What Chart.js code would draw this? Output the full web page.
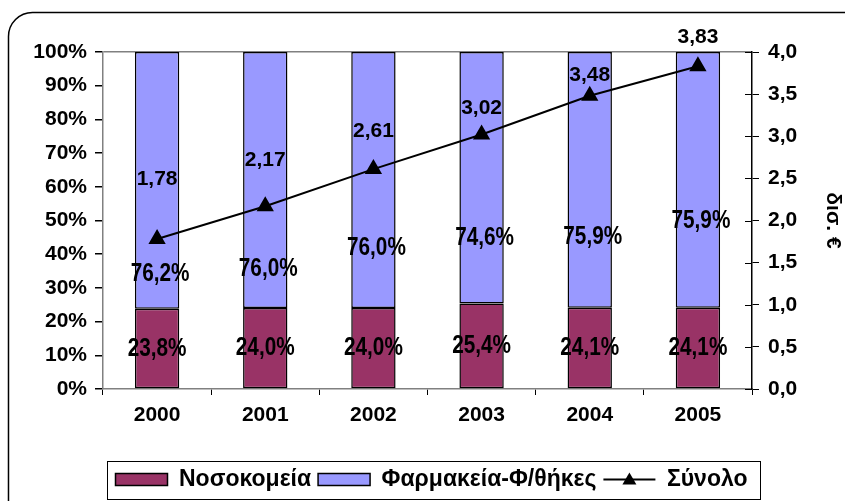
<!DOCTYPE html>
<html>
<head>
<meta charset="utf-8">
<script src="https://cdn.jsdelivr.net/npm/chart.js@4"></script>
<style>
  body { margin: 0; background: #fff; }
  #wrap { width: 845px; height: 501px; }
</style>
</head>
<body>
<div id="wrap"><canvas id="chart" width="845" height="501"></canvas></div>
<script>
var years = ['2000', '2001', '2002', '2003', '2004', '2005']
var hospitals = [23.8, 24.0, 24.0, 25.4, 24.1, 24.1]
var pharmacies = [76.2, 76.0, 76.0, 74.6, 75.9, 75.9]
var total = [1.78, 2.17, 2.61, 3.02, 3.48, 3.83]

// where the labels were moved to in the original (label styling, not data)
var pharmLabelAt = [34.2, 35.7, 41.7, 44.9, 45.2, 49.7]
var totalLabelLift = [60, 46, 38, 26, 21, 29]

var FONT = "'Liberation Sans', Arial, sans-serif"

function comma(v, d) {
  return v.toFixed(d).replace('.', ',')
}

var frame = {
  id: 'frame',
  beforeDraw: function (chart) {
    var ctx = chart.ctx
    ctx.save()
    ctx.strokeStyle = '#000'
    ctx.lineWidth = 1.5
    ctx.beginPath()
    ctx.roundRect(8.5, 12.5, 900, 600, 24)
    ctx.stroke()
    ctx.restore()
  },
  afterDraw: function (chart) {
    var ctx = chart.ctx
    var area = chart.chartArea
    var y1 = chart.scales.y1
    ctx.save()
    // inner half of the right axis ticks
    ctx.strokeStyle = '#000'
    ctx.lineWidth = 1
    y1.ticks.forEach(function (t) {
      var y = Math.round(y1.getPixelForValue(t.value)) + 0.5
      ctx.beginPath()
      ctx.moveTo(area.right - 7, y)
      ctx.lineTo(area.right, y)
      ctx.stroke()
    })

    // legend frame and line symbol
    var boxes = chart.legend.legendHitBoxes
    if (boxes.length) {
      var cy = boxes[0].top + boxes[0].height / 2
      var l = boxes[0].left - 9
      var r = boxes[boxes.length - 1].left + boxes[boxes.length - 1].width + 12
      ctx.strokeStyle = '#000'
      ctx.lineWidth = 1
      ctx.strokeRect(Math.round(l) + 0.5, Math.round(cy - 19) + 0.5, Math.round(r - l), 38)

      var hb = boxes[2]
      ctx.lineWidth = 2
      ctx.beginPath()
      ctx.moveTo(hb.left, cy)
      ctx.lineTo(hb.left + 52, cy)
      ctx.stroke()
      ctx.fillStyle = '#000'
      ctx.beginPath()
      ctx.moveTo(hb.left + 26, cy - 7)
      ctx.lineTo(hb.left + 33, cy + 5)
      ctx.lineTo(hb.left + 19, cy + 5)
      ctx.closePath()
      ctx.fill()
    }
    ctx.restore()
  }
}

var labels = {
  id: 'labels',
  afterDatasetsDraw: function (chart) {
    var ctx = chart.ctx
    var x = chart.scales.x
    var y = chart.scales.y
    var y1 = chart.scales.y1
    ctx.save()
    ctx.fillStyle = '#000'
    ctx.textAlign = 'center'
    ctx.textBaseline = 'middle'

    // percentage labels in a narrow face
    ctx.font = 'bold 25px ' + FONT
    for (var i = 0; i < years.length; i++) {
      var cx = x.getPixelForValue(i)
      var yl = y.getPixelForValue(hospitals[i] / 2)
      var yu = y.getPixelForValue(pharmLabelAt[i])
      ctx.save()
      ctx.translate(cx, yl)
      ctx.scale(0.83, 1)
      ctx.fillText(comma(hospitals[i], 1) + '%', 0, 0)
      ctx.restore()
      ctx.save()
      ctx.translate(cx + 3, yu)
      ctx.scale(0.83, 1)
      ctx.fillText(comma(pharmacies[i], 1) + '%', 0, 0)
      ctx.restore()
    }

    ctx.font = 'bold 21px ' + FONT
    for (var j = 0; j < years.length; j++) {
      var px = x.getPixelForValue(j)
      var py = y1.getPixelForValue(total[j]) - totalLabelLift[j]
      ctx.fillText(comma(total[j], 2), px, py)
    }
    ctx.restore()
  }
}

var tickFont = { family: FONT, size: 21, weight: 'bold' }
var legendFont = { family: FONT, size: 23, weight: 'bold' }

new Chart(document.getElementById('chart'), {
  data: {
    labels: years,
    datasets: [{
      type: 'bar',
      label: 'Νοσοκομεία',
      data: hospitals,
      backgroundColor: '#993366',
      borderColor: '#000',
      borderWidth: 1.5,
      borderSkipped: false,
      barPercentage: 0.41,
      categoryPercentage: 1,
      yAxisID: 'y',
      order: 1
    }, {
      type: 'bar',
      label: 'Φαρμακεία-Φ/θήκες',
      data: pharmacies,
      backgroundColor: '#9999FF',
      borderColor: '#000',
      borderWidth: 1.5,
      borderSkipped: false,
      barPercentage: 0.41,
      categoryPercentage: 1,
      yAxisID: 'y',
      order: 1
    }, {
      type: 'line',
      label: 'Σύνολο',
      data: total,
      borderColor: '#000',
      backgroundColor: '#000',
      borderWidth: 2,
      pointStyle: 'triangle',
      pointRadius: 8,
      pointBackgroundColor: '#000',
      yAxisID: 'y1',
      order: 0
    }]
  },
  options: {
    responsive: false,
    animation: false,
    layout: { padding: { top: 52, left: 18, right: 0, bottom: 0 } },
    plugins: {
      tooltip: { enabled: false },
      legend: {
        position: 'bottom',
        labels: {
          color: '#000',
          font: legendFont,
          boxWidth: 52,
          boxHeight: 12,
          padding: 7,
          sort: function (a, b) { return a.datasetIndex - b.datasetIndex },
          generateLabels: function (chart) {
            var items = Chart.defaults.plugins.legend.labels.generateLabels(chart)
            items.forEach(function (it) {
              if (it.datasetIndex === 2) {
                it.fillStyle = 'rgba(0,0,0,0)'
                it.strokeStyle = 'rgba(0,0,0,0)'
                it.lineWidth = 0
              } else {
                it.lineWidth = 1.5
              }
            })
            return items
          }
        }
      }
    },
    scales: {
      x: {
        stacked: true,
        grid: { offset: true, drawOnChartArea: false, tickLength: 6, color: '#000' },
        border: { color: '#808080', width: 1.5 },
        ticks: { color: '#000', font: tickFont, padding: 8 },
        afterFit: function (s) { s.height = 72 }
      },
      y: {
        stacked: true,
        min: 0,
        max: 100,
        ticks: {
          stepSize: 10,
          color: '#000',
          font: tickFont,
          padding: 8,
          callback: function (v) { return v + '%' }
        },
        grid: {
          tickLength: 8,
          tickColor: '#000',
          color: function (c) { return c.tick && c.tick.value === 100 ? '#808080' : 'rgba(0,0,0,0)' },
          lineWidth: 1.5
        },
        border: { color: '#808080', width: 1.5 },
        afterFit: function (s) { s.width = 85 }
      },
      y1: {
        position: 'right',
        min: 0,
        max: 4,
        ticks: {
          stepSize: 0.5,
          color: '#000',
          font: tickFont,
          padding: 9,
          callback: function (v) { return comma(v, 1) }
        },
        grid: { drawOnChartArea: false, tickLength: 7, color: '#000' },
        border: { color: '#000', width: 1.5 },
        title: { display: true, text: 'δισ. €', color: '#000', font: tickFont, padding: 0 },
        afterFit: function (s) { s.width = 93 }
      }
    }
  },
  plugins: [frame, labels]
})
</script>
</body>
</html>
